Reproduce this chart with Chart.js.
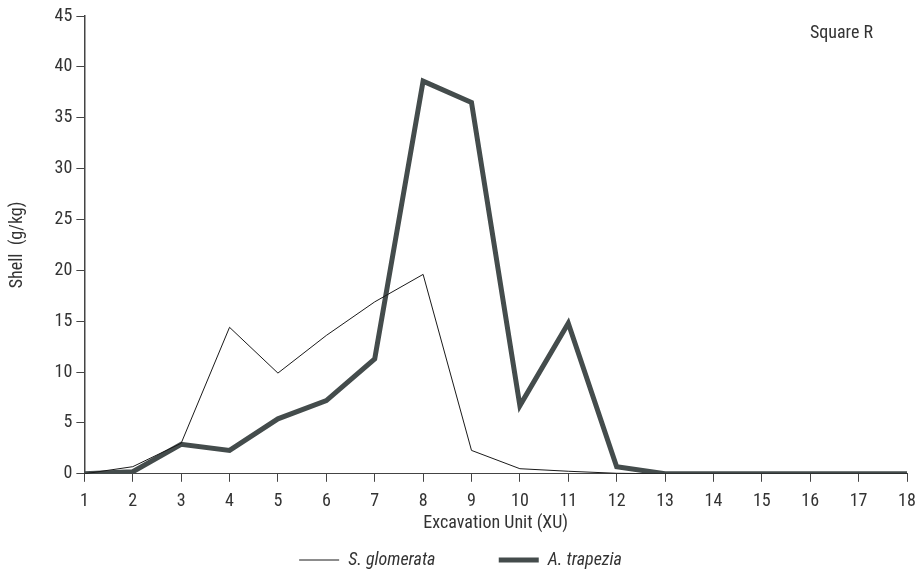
<!DOCTYPE html>
<html lang="en">
<head>
<meta charset="UTF-8">
<title>Square R</title>
<script src="https://cdn.jsdelivr.net/npm/chart.js"></script>
<style>
  html, body { margin: 0; padding: 0; background: #fff; }
  .wrap { width: 918px; height: 575px; position: relative; }
</style>
</head>
<body>
<div class="wrap">
  <canvas id="grafico"></canvas>
</div>
<script>
    const unidades = ['1','2','3','4','5','6','7','8','9','10','11','12','13','14','15','16','17','18']
    const glomerata = [0, 0.7, 3.0, 14.4, 9.9, 13.6, 16.9, 19.6, 2.3, 0.5, 0.25, 0.05, 0, 0, 0, 0, 0, 0]
    const trapezia = [0, 0.2, 2.9, 2.3, 5.4, 7.2, 11.3, 38.6, 36.5, 6.7, 14.8, 0.7, 0, 0, 0, 0, 0, 0]

    const fonte = "'Liberation Sans Narrow', 'Roboto Condensed', 'Open Sans', sans-serif"
    const cinza = '#333'
    const tam = 18

    // texto "Square R" no canto superior direito
    const rotulo = {
        id: 'rotulo',
        afterDraw(chart) {
            const ctx = chart.ctx
            ctx.save()
            ctx.font = tam + 'px ' + fonte
            ctx.fillStyle = cinza
            ctx.textAlign = 'right'
            ctx.textBaseline = 'middle'
            ctx.fillText('Square R', chart.width - 45, 33)
            ctx.restore()
        }
    }

    const config = {
        type: 'line',
        data: {
            labels: unidades,
            datasets: [{
                label: 'S. glomerata',
                data: glomerata,
                borderColor: '#1a1a1a',
                backgroundColor: '#1a1a1a',
                borderWidth: 1,
                pointRadius: 0,
                tension: 0
            }, {
                label: 'A. trapezia',
                data: trapezia,
                borderColor: '#444c4c',
                backgroundColor: '#444c4c',
                borderWidth: 5,
                pointRadius: 0,
                tension: 0
            }]
        },
        options: {
            responsive: false,
            animation: false,
            layout: { padding: { top: 16, right: 0, left: 3, bottom: -4 } },
            plugins: {
                legend: {
                    position: 'bottom',
                    labels: {
                        usePointStyle: true,
                        pointStyle: 'line',
                        pointStyleWidth: 40,
                        padding: 13,
                        color: cinza,
                        font: { family: fonte, size: tam, style: 'italic' },
                        generateLabels(chart) {
                            const itens = Chart.defaults.plugins.legend.labels.generateLabels(chart)
                            // espaço extra depois do primeiro item
                            itens[0].text = itens[0].text + '\u2003\u2003\u2003\u00a0'
                            return itens
                        }
                    }
                },
                tooltip: { enabled: false }
            },
            scales: {
                x: {
                    offset: false,
                    grid: { drawOnChartArea: false, tickLength: 8, color: '#444' },
                    border: { color: '#444', width: 1 },
                    ticks: { color: cinza, maxRotation: 0, autoSkip: false, padding: 9,
                        font: { family: fonte, size: tam } },
                    title: { display: true, text: 'Excavation Unit (XU)', color: cinza, padding: { top: -9, bottom: 4 },
                        font: { family: fonte, size: tam } },
                    // margem direita só pela metade do último rótulo
                    afterFit(escala) { escala.paddingRight = 11 }
                },
                y: {
                    min: 0,
                    max: 45,
                    grid: { drawOnChartArea: false, tickLength: 8, color: '#444' },
                    border: { color: '#444', width: 1.5 },
                    ticks: { stepSize: 5, color: cinza, padding: 4,
                        font: { family: fonte, size: tam } },
                    title: { display: true, text: 'Shell  (g/kg)', color: cinza, padding: { top: 4, bottom: 22 },
                        font: { family: fonte, size: tam } }
                }
            }
        },
        plugins: [rotulo]
    }

    const canvas = document.getElementById('grafico')
    canvas.width = 918
    canvas.height = 575
    const grafico = new Chart(canvas, config)
</script>
</body>
</html>
